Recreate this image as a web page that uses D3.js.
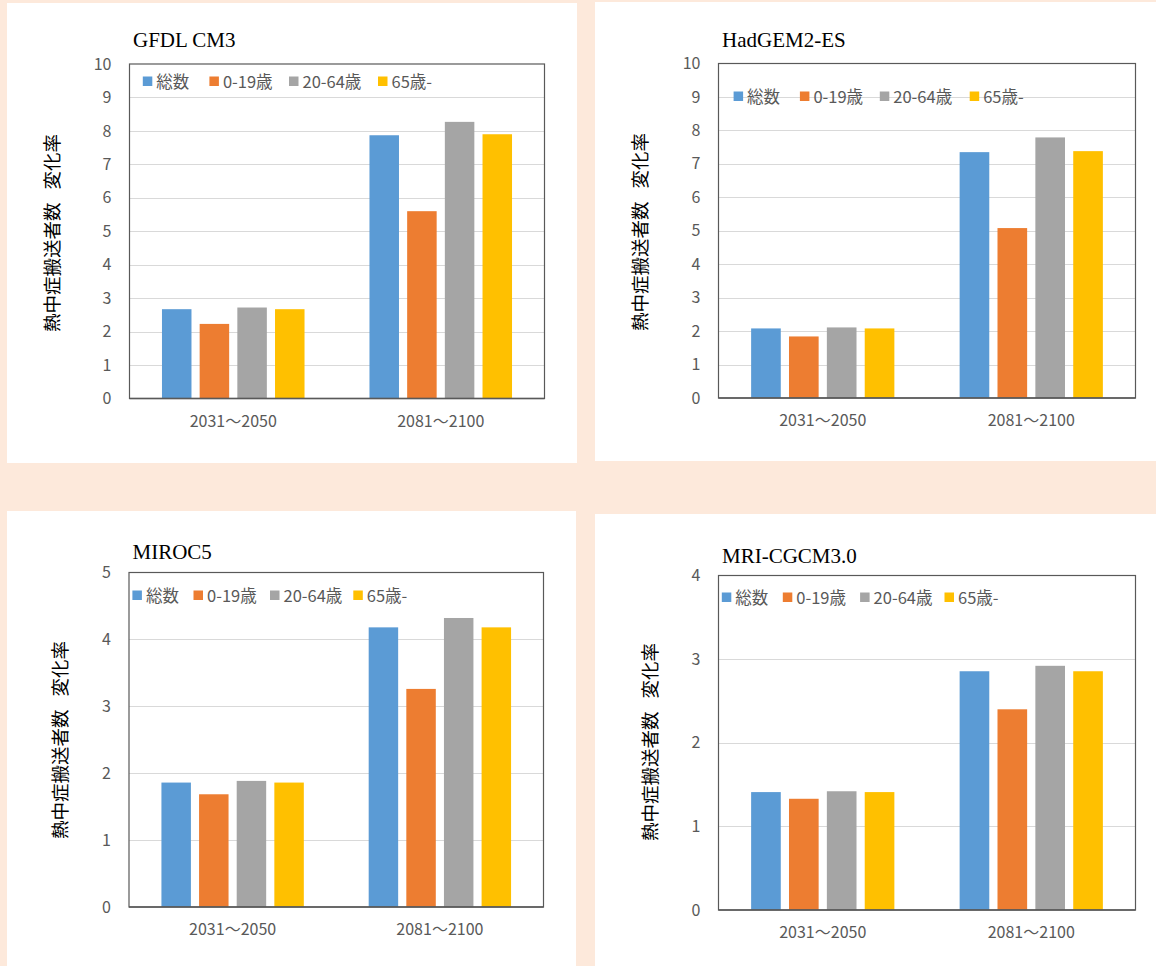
<!DOCTYPE html>
<html>
<head>
<meta charset="utf-8">
<script src="https://cdn.jsdelivr.net/npm/d3@7"></script>
<style>
  html, body { margin: 0; padding: 0; background: #FDE9DB; }
  svg { display: block; }
</style>
</head>
<body>
<svg id="chart" width="1156" height="966"></svg>
<script>
// ---- data ----
const categories = ["2031～2050", "2081～2100"];
const seriesNames = ["総数", "0-19歳", "20-64歳", "65歳-"];
const seriesColors = ["#5B9BD5", "#ED7D31", "#A5A5A5", "#FFC000"];
const modelNames = ["GFDL CM3", "HadGEM2-ES", "MIROC5", "MRI-CGCM3.0"];
const yAxisTitleParts = ["熱中症搬送者数", "変化率"];

// values per series: [2031～2050, 2081～2100]
const gfdlValues    = [[2.67, 7.87], [2.23, 5.60], [2.72, 8.27], [2.67, 7.90]];
const hadgemValues  = [[2.08, 7.35], [1.84, 5.08], [2.11, 7.79], [2.08, 7.38]];
const mirocValues   = [[1.86, 4.18], [1.685, 3.26], [1.885, 4.32], [1.86, 4.18]];
const mriValues     = [[1.41, 2.855], [1.33, 2.40], [1.42, 2.92], [1.41, 2.855]];
const yMaxes = [10, 10, 5, 4];
const yTicks = [
  [0,1,2,3,4,5,6,7,8,9,10],
  [0,1,2,3,4,5,6,7,8,9,10],
  [0,1,2,3,4,5],
  [0,1,2,3,4]
];
const allValues = [gfdlValues, hadgemValues, mirocValues, mriValues];

// ---- layout ----
const panels = [
  { card: [7, 3, 577, 463],    plot: [129.5, 64, 544.5, 398.5], titleY: 47, legendY: 81,  legendX: [13.3, 79.9, 159.5, 248.5], axisTitle: [51, 233] },
  { card: [595, 2, 1156, 461], plot: [718.5, 63.5, 1135.5, 398], titleY: 47, legendY: 96,  legendX: [15.1, 81.4, 161.3, 251.2], axisTitle: [639, 232] },
  { card: [7, 511, 576, 966],  plot: [129, 572.5, 543.5, 907],  titleY: 559, legendY: 595, legendX: [3.4, 64.5, 141, 224.3],  axisTitle: [59, 740] },
  { card: [595, 514, 1156, 966], plot: [718.5, 575.5, 1135.5, 910], titleY: 563, legendY: 597, legendX: [3.3, 64.3, 141.6, 226], axisTitle: [649, 742] }
];

const svg = d3.select("#chart");
const CJK = "'Noto Sans CJK JP', 'Noto Sans', sans-serif";

panels.forEach((p, pi) => {
  const [cx0, cy0, cx1, cy1] = p.card;
  svg.append("rect").attr("x", cx0).attr("y", cy0)
    .attr("width", cx1 - cx0).attr("height", cy1 - cy0).attr("fill", "#fff");

  const [L, T, R, B] = p.plot;
  const g = svg.append("g");

  const y = d3.scaleLinear().domain([0, yMaxes[pi]]).range([B, T]);
  const x0 = d3.scaleBand().domain(categories).range([L, R]).paddingInner(0.313).paddingOuter(0.1565);
  const x1 = d3.scaleBand().domain(seriesNames).range([0, x0.bandwidth()]).paddingInner(0.217).paddingOuter(0);

  // gridlines
  g.append("g").selectAll("line").data(yTicks[pi].filter(t => t > 0 && t < yMaxes[pi])).join("line")
    .attr("x1", L).attr("x2", R)
    .attr("y1", d => Math.round(y(d)) + 0.5).attr("y2", d => Math.round(y(d)) + 0.5)
    .attr("stroke", "#D9D9D9").attr("stroke-width", 1);

  // bars
  const vals = allValues[pi];
  seriesNames.forEach((s, si) => {
    g.append("g").selectAll("rect").data(categories.map((c, ci) => ({ c, v: vals[si][ci] }))).join("rect")
      .attr("x", d => x0(d.c) + x1(s))
      .attr("y", d => y(d.v))
      .attr("width", x1.bandwidth())
      .attr("height", d => y(0) - y(d.v))
      .attr("fill", seriesColors[si]);
  });

  // plot border
  g.append("rect").attr("x", L).attr("y", T).attr("width", R - L).attr("height", B - T)
    .attr("fill", "none").attr("stroke", "#595959").attr("stroke-width", 1.2);
  g.append("line").attr("x1", L).attr("x2", R).attr("y1", B).attr("y2", B)
    .attr("stroke", "#595959").attr("stroke-width", 1.6);

  // y axis labels
  const ya = g.append("g").attr("transform", `translate(${L},0)`)
    .call(d3.axisLeft(y).tickValues(yTicks[pi]).tickSize(0).tickPadding(18).tickFormat(d3.format("d")));
  ya.select(".domain").remove();
  ya.selectAll("text").attr("font-family", CJK).attr("font-size", 16).attr("fill", "#595959");

  // x axis labels
  const xa = g.append("g").attr("transform", `translate(0,${B})`)
    .call(d3.axisBottom(x0).tickSize(0).tickPadding(17));
  xa.select(".domain").remove();
  xa.selectAll("text").attr("font-family", CJK).attr("font-size", 16).attr("fill", "#595959");

  // title
  g.append("text").attr("x", L + 3.5).attr("y", p.titleY)
    .attr("font-family", "'Liberation Serif', 'Times New Roman', serif")
    .attr("font-size", 21).attr("fill", "#000").text(modelNames[pi]);

  // y axis title
  const at = g.append("text")
    .attr("transform", `translate(${p.axisTitle[0]},${p.axisTitle[1]}) rotate(-90)`)
    .attr("text-anchor", "middle").attr("dominant-baseline", "central")
    .attr("font-family", CJK).attr("font-size", 18.5).attr("fill", "#000");
  at.append("tspan").text(yAxisTitleParts[0]);
  at.append("tspan").attr("dx", 13).text(yAxisTitleParts[1]);

  // legend
  const lg = g.append("g");
  seriesNames.forEach((s, si) => {
    const lx = L + p.legendX[si];
    lg.append("rect").attr("x", lx).attr("y", p.legendY - 4.5).attr("width", 9.5).attr("height", 9.5)
      .attr("fill", seriesColors[si]);
    lg.append("text").attr("x", lx + 13.5).attr("y", p.legendY)
      .attr("dominant-baseline", "central")
      .attr("font-family", CJK).attr("font-size", 16.5).attr("fill", "#595959").text(s);
  });
});
</script>
</body>
</html>
